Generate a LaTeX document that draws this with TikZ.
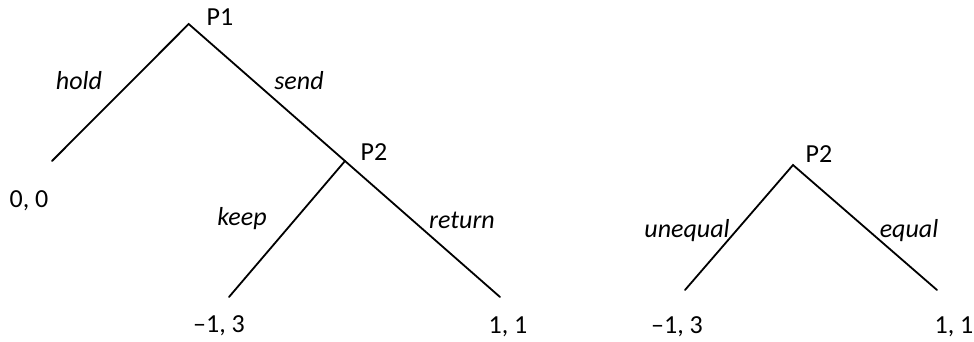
\documentclass[tikz,border=0pt]{standalone}
\usepackage{fontspec}
\setmainfont{Carlito}
\usetikzlibrary{positioning}

\begin{document}
\begin{tikzpicture}[x=1pt,y=-1pt, every node/.style={font=\fontsize{26}{30}\selectfont,inner sep=0pt}]
\tikzstyle{branch}=[line width=1.8pt,line cap=round]
\tikzstyle{act}=[anchor=base,font=\fontsize{26}{30}\selectfont\itshape]
\tikzstyle{pay}=[anchor=base]
\useasboundingbox (0,0) rectangle (974,341);
% first tree
\coordinate (p1) at (188.7,24);
\coordinate (p2) at (345,161);
\coordinate (hold) at (52,161);
\coordinate (keep) at (229,297);
\coordinate (ret) at (500,297);
\node[pay] (p1lab) at (220,25) {P1};
\node[pay] (p2lab) at (374,160) {P2};
\node[act] (holdlab) at (79,89) {hold};
\node[act] (sendlab) at (299,89) {send};
\node[act] (keeplab) at (242,225) {keep};
\node[act] (retlab) at (462,228) {return};
\node[pay] (pay00) at (29,207) {0, 0};
\node[pay] (payk) at (219,332) {--1, 3};
\node[pay] (payr) at (508,333) {1, 1};
\draw[branch] (hold) -- (p1) -- (p2);
\draw[branch] (keep) -- (p2) -- (ret);
% second tree
\coordinate (q2) at (793,165);
\coordinate (uneq) at (685,290);
\coordinate (eq) at (937,290);
\node[pay] (q2lab) at (819,162) {P2};
\node[act] (uneqlab) at (687,237) {unequal};
\node[act] (eqlab) at (909,237) {equal};
\node[pay] (payu) at (677,333) {--1, 3};
\node[pay] (paye) at (954,333) {1, 1};
\draw[branch] (uneq) -- (q2) -- (eq);
\end{tikzpicture}
\end{document}
